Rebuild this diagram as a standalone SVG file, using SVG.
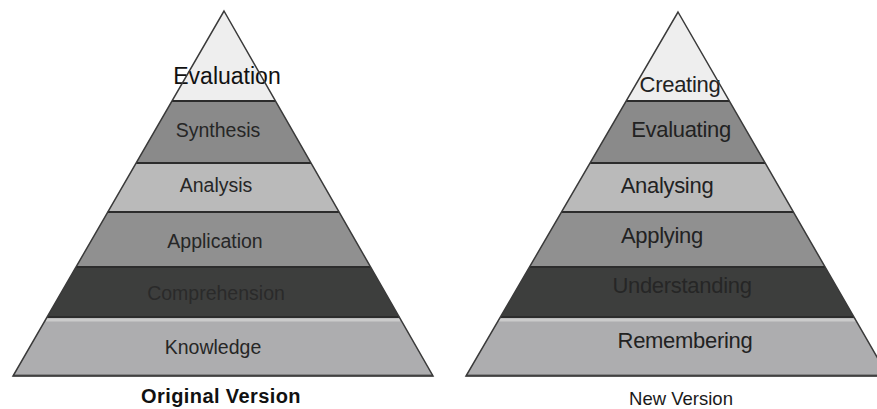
<svg xmlns="http://www.w3.org/2000/svg" width="877" height="409" viewBox="0 0 877 409">
  <style>
    .b1{fill:#eeeeee}
    .b2{fill:#8a8a8a}
    .b3{fill:#bababa}
    .b4{fill:#909090}
    .b5{fill:#3d3e3d}
    .b6{fill:#adadaf}
    .sep{stroke:#2c2c2c;stroke-width:2;fill:none}
    .hl{stroke:#cbcbcb;stroke-width:3;fill:none}
    .outline{stroke:#3a3a3a;stroke-width:1.5;fill:none;stroke-linejoin:miter}
    .lt{font-family:"Liberation Sans",Arial,sans-serif;font-size:19.5px;fill:#262626;text-anchor:middle}
    .rt{font-family:"Liberation Sans",Arial,sans-serif;font-size:22px;fill:#222222;text-anchor:middle;letter-spacing:-0.3px}
    .cap1{font-family:"Liberation Sans",Arial,sans-serif;font-size:20px;font-weight:bold;fill:#111111;text-anchor:middle;letter-spacing:0.4px}
    .cap2{font-family:"Liberation Sans",Arial,sans-serif;font-size:18.5px;fill:#1a1a1a;text-anchor:middle}
  </style>
  <rect width="877" height="409" fill="#ffffff"/>

  <!-- Original Version pyramid -->
  <g id="original-pyramid">
    <g id="orig-evaluation">
      <polygon class="b1" points="224,11 172,101 275.5,101"/>
      <text x="227" y="84" style="font-family:'Liberation Sans',Arial,sans-serif;font-size:23px;fill:#111;text-anchor:middle">Evaluation</text>
    </g>
    <g id="orig-synthesis">
      <polygon class="b2" points="172,101 275.5,101 311,163 136.1,163"/>
      <text class="lt" x="218" y="137">Synthesis</text>
    </g>
    <g id="orig-analysis">
      <polygon class="b3" points="136.1,163 311,163 339.1,212 107.8,212"/>
      <text class="lt" x="216" y="192">Analysis</text>
    </g>
    <g id="orig-application">
      <polygon class="b4" points="107.8,212 339.1,212 370.6,267 76,267"/>
      <text class="lt" x="215" y="248">Application</text>
    </g>
    <g id="orig-comprehension">
      <polygon class="b5" points="76,267 370.6,267 399.2,317 47.1,317"/>
      <text class="lt" x="216" y="300" style="fill:#2a2a2a">Comprehension</text>
    </g>
    <g id="orig-knowledge">
      <polygon class="b6" points="47.1,317 399.2,317 433,376 13,376"/>
      <line class="hl" x1="46" y1="320" x2="400" y2="320"/>
      <text class="lt" x="213" y="354">Knowledge</text>
    </g>
    <g id="orig-lines">
      <line class="sep" x1="172" y1="101" x2="275.5" y2="101"/>
      <line class="sep" x1="136.1" y1="163" x2="311" y2="163"/>
      <line class="sep" x1="107.8" y1="212" x2="339.1" y2="212"/>
      <line class="sep" x1="76" y1="267" x2="370.6" y2="267"/>
      <line class="sep" x1="47.1" y1="317" x2="399.2" y2="317"/>
      <line x1="13" y1="375.5" x2="433" y2="375.5" stroke="#5a5a5a" stroke-width="2"/>
      <polygon class="outline" points="224,11 433,376 13,376"/>
    </g>
    <text id="caption-original" class="cap1" x="221" y="403">Original Version</text>
  </g>

  <!-- New Version pyramid -->
  <g id="new-pyramid">
    <g id="new-creating">
      <polygon class="b1" points="678,12 626.2,101 729.3,101"/>
      <text class="rt" x="680" y="92">Creating</text>
    </g>
    <g id="new-evaluating">
      <polygon class="b2" points="626.2,101 729.3,101 765.1,163 590.1,163"/>
      <text class="rt" x="681" y="137">Evaluating</text>
    </g>
    <g id="new-analysing">
      <polygon class="b3" points="590.1,163 765.1,163 793.4,212 561.5,212"/>
      <text class="rt" x="667" y="193">Analysing</text>
    </g>
    <g id="new-applying">
      <polygon class="b4" points="561.5,212 793.4,212 825.1,267 529.5,267"/>
      <text class="rt" x="662" y="243">Applying</text>
    </g>
    <g id="new-understanding">
      <polygon class="b5" points="529.5,267 825.1,267 854,317 500.4,317"/>
      <text class="rt" x="682" y="293" style="fill:#262626">Understanding</text>
    </g>
    <g id="new-remembering">
      <polygon class="b6" points="500.4,317 854,317 888,376 466,376"/>
      <line class="hl" x1="499" y1="320" x2="856" y2="320"/>
      <text class="rt" x="685" y="348">Remembering</text>
    </g>
    <g id="new-lines">
      <line class="sep" x1="626.2" y1="101" x2="729.3" y2="101"/>
      <line class="sep" x1="590.1" y1="163" x2="765.1" y2="163"/>
      <line class="sep" x1="561.5" y1="212" x2="793.4" y2="212"/>
      <line class="sep" x1="529.5" y1="267" x2="825.1" y2="267"/>
      <line class="sep" x1="500.4" y1="317" x2="854" y2="317"/>
      <line x1="466" y1="375.5" x2="888" y2="375.5" stroke="#5a5a5a" stroke-width="2"/>
      <polygon class="outline" points="678,12 888,376 466,376"/>
    </g>
    <text id="caption-new" class="cap2" x="681" y="405">New Version</text>
  </g>
</svg>
